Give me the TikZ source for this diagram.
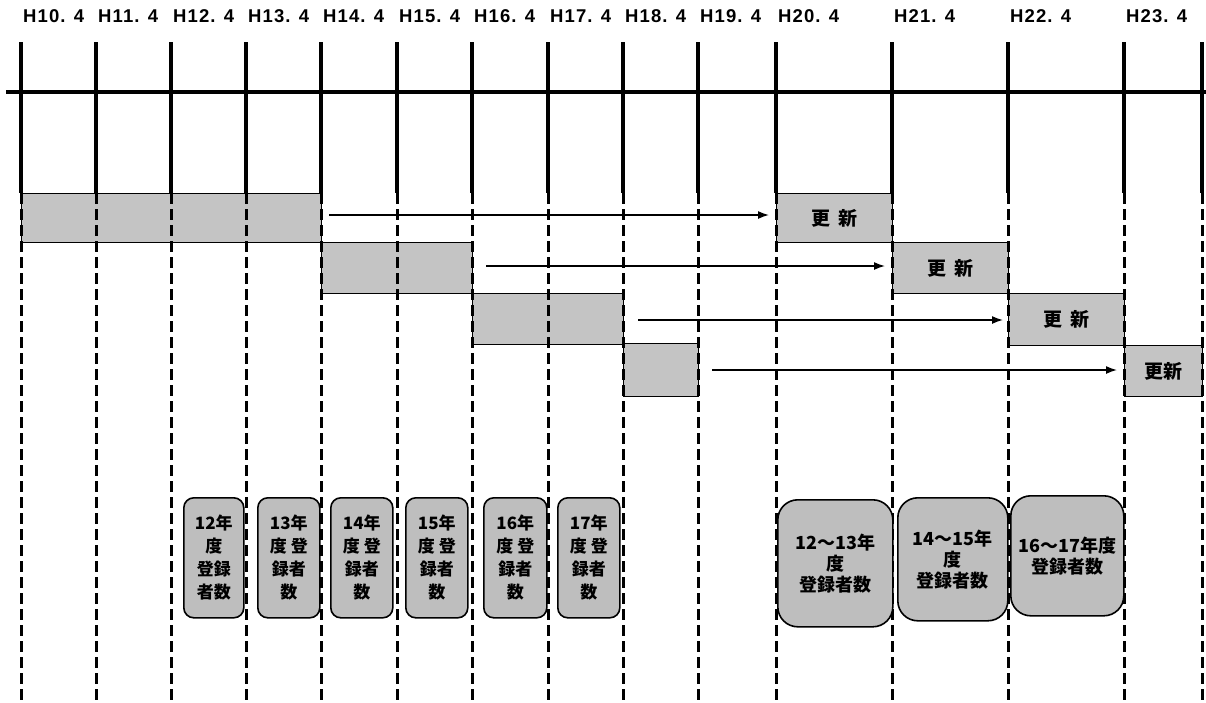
\documentclass[tikz,border=0pt]{standalone}
\usepackage{fontspec}
\setmainfont{Noto Sans CJK JP}
\newfontfamily\lab{Liberation Sans}[LetterSpace=6]
\usetikzlibrary{arrows.meta}
\definecolor{barfill}{HTML}{C4C4C4}
\definecolor{boxfill}{HTML}{BEBEBE}
\tikzset{
 solidline/.style={line width=3.2pt},
 dashline/.style={line width=3pt, dash pattern=on 11pt off 5pt},
 bar/.style={draw, line width=1.2pt, fill=barfill, inner sep=0pt, anchor=north west},
 upd/.style={bar, font=\bfseries\fontsize{19}{22}\selectfont},
 yr/.style={draw, line width=1.6pt, fill=boxfill, rounded corners=10pt, inner sep=0pt, anchor=north west, align=center, font=\bfseries\fontsize{17}{23}\selectfont},
 big/.style={yr, rounded corners=20pt, font=\bfseries\fontsize{18}{21}\selectfont},
 arr/.style={line width=1.5pt, -{Latex[length=11pt,width=8pt]}},
 hlab/.style={anchor=west, inner sep=0pt, font=\lab\bfseries\fontsize{18.5}{20}\selectfont},
}
\begin{document}
\begin{tikzpicture}[x=1pt,y=-1pt]
\useasboundingbox (0,0) rectangle (1206,702);
% bars
\node[bar, minimum width=300pt, minimum height=49pt] (b1) at (21,193) {};
\node[bar, minimum width=151pt, minimum height=51pt] (b2) at (321,242) {};
\node[bar, minimum width=151pt, minimum height=51pt] (b3) at (472,293) {};
\node[bar, minimum width=75pt, minimum height=53pt] (b4) at (623,343) {};
% update boxes
\node[upd, minimum width=116pt, minimum height=49pt] (u1) at (776,193) {更\ \ 新};
\node[upd, minimum width=116pt, minimum height=51pt] (u2) at (892,242) {更\ \ 新};
\node[upd, minimum width=116pt, minimum height=52pt] (u3) at (1008,293) {更\ \ 新};
\node[upd, minimum width=78pt, minimum height=51pt] (u4) at (1124,345) {更新};
% grid lines
\draw[line width=4pt] (6,92) -- (1206,92);
\foreach \x in {21,96,171,246,321,397,472,548,623,698,776,892,1008,1124,1202}{
  \draw[solidline] (\x,42) -- (\x,193);
  \draw[dashline] (\x,193) -- (\x,702);
}
% header labels
\foreach \x/\t in {21/H10. 4,96/H11. 4,171/H12. 4,246/H13. 4,321/H14. 4,397/H15. 4,472/H16. 4,548/H17. 4,623/H18. 4,698/H19. 4,776/H20. 4,892/H21. 4,1008/H22. 4,1124/H23. 4}{
  \node[hlab] (l\x) at (\x+2,16) {\t};
}
% arrows
\draw[arr, shorten <=7pt, shorten >=7pt] (b1.east |- 0,215) -- (u1.west |- 0,215);
\draw[arr, shorten <=13pt, shorten >=7pt] (b2.east |- 0,266) -- (u2.west |- 0,266);
\draw[arr, shorten <=14pt, shorten >=5pt] (b3.east |- 0,320) -- (u3.west |- 0,320);
\draw[arr, shorten <=13pt, shorten >=7pt] (b4.east |- 0,370) -- (u4.west |- 0,370);
% year boxes
\node[yr, minimum width=60pt, minimum height=120pt] (y12) at (183,497) {12年\\度\\登録\\者数};
\node[yr, minimum width=62pt, minimum height=120pt] (y13) at (257,497) {13年\\度 登\\録者\\数};
\node[yr, minimum width=62pt, minimum height=120pt] (y14) at (330,497) {14年\\度 登\\録者\\数};
\node[yr, minimum width=62pt, minimum height=120pt] (y15) at (405,497) {15年\\度 登\\録者\\数};
\node[yr, minimum width=63pt, minimum height=120pt] (y16) at (483,497) {16年\\度 登\\録者\\数};
\node[yr, minimum width=62pt, minimum height=120pt] (y17) at (557,497) {17年\\度 登\\録者\\数};
\node[big, minimum width=115pt, minimum height=127pt] (g1) at (777,499) {12～13年\\度\\登録者数};
\node[big, minimum width=110pt, minimum height=123pt] (g2) at (897,497) {14～15年\\度\\登録者数};
\node[big, minimum width=113pt, minimum height=120pt] (g3) at (1010,495) {16～17年度\\登録者数};
\end{tikzpicture}
\end{document}
